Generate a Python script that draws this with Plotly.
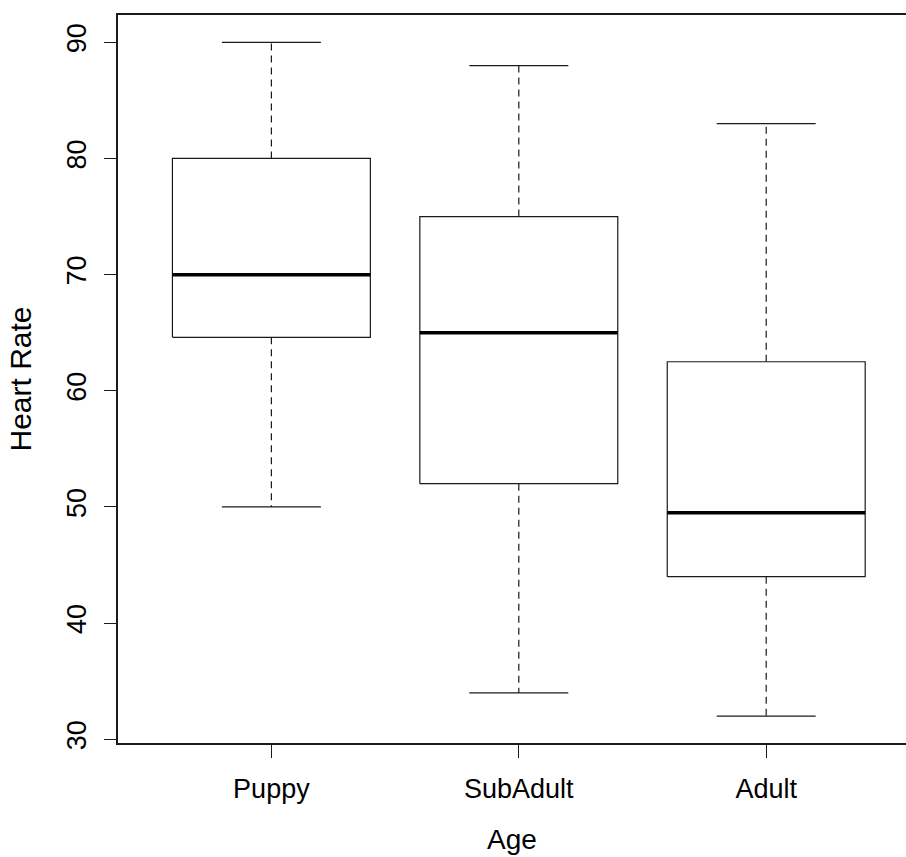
import plotly.graph_objects as go

# Heart rate summary statistics by age group
groups = ["Puppy", "SubAdult", "Adult"]
lower_whisker = [50, 34, 32]
q1 = [64.6, 52, 44]
median = [70, 65, 49.5]
q3 = [80, 75, 62.5]
upper_whisker = [90, 88, 83]
y_ticks = [30, 40, 50, 60, 70, 80, 90]

BOX_HALF = 0.4
CAP_HALF = 0.2
INK = "#1a1a1a"

fig = go.Figure()

for i, name in enumerate(groups):
    x = i + 1
    # box outline
    fig.add_trace(go.Scatter(
        x=[x - BOX_HALF, x + BOX_HALF, x + BOX_HALF, x - BOX_HALF, x - BOX_HALF],
        y=[q1[i], q1[i], q3[i], q3[i], q1[i]],
        mode="lines", line=dict(color=INK, width=1.2), hoverinfo="skip"))
    # median
    fig.add_trace(go.Scatter(
        x=[x - BOX_HALF, x + BOX_HALF], y=[median[i], median[i]],
        mode="lines", line=dict(color="black", width=3.5), hoverinfo="skip"))
    # dashed whiskers
    fig.add_trace(go.Scatter(
        x=[x, x, None, x, x],
        y=[q3[i], upper_whisker[i], None, q1[i], lower_whisker[i]],
        mode="lines", line=dict(color=INK, width=1.2, dash="7px,5px"),
        hoverinfo="skip"))
    # staples
    fig.add_trace(go.Scatter(
        x=[x - CAP_HALF, x + CAP_HALF, None, x - CAP_HALF, x + CAP_HALF],
        y=[upper_whisker[i], upper_whisker[i], None, lower_whisker[i], lower_whisker[i]],
        mode="lines", line=dict(color=INK, width=1.2), hoverinfo="skip"))

font_family = "Liberation Sans, Arial, sans-serif"

fig.update_layout(
    width=906, height=857,
    margin=dict(l=118, r=0, t=15, b=114, pad=0),
    paper_bgcolor="white", plot_bgcolor="white",
    showlegend=False,
    font=dict(family=font_family, size=27, color="black"),
    xaxis=dict(
        range=[0.38, 3.565],
        tickmode="array", tickvals=[1, 2, 3], ticktext=groups,
        ticks="outside", ticklen=13, tickwidth=1.3, tickcolor=INK,
        showline=True, linecolor=INK, linewidth=1.5, mirror=True,
        showgrid=False, zeroline=False,
        tickfont=dict(size=27),
        ticklabelstandoff=8,
        title=dict(text="Age", font=dict(size=28), standoff=26),
    ),
    yaxis=dict(
        range=[29.68, 92.35],
        tickmode="array", tickvals=y_ticks,
        ticks="outside", ticklen=12, tickwidth=1.3, tickcolor=INK,
        showline=True, linecolor=INK, linewidth=1.5, mirror=False,
        showgrid=False, zeroline=False,
        tickangle=-90,
        tickfont=dict(size=27),
        ticklabelstandoff=7,
        title=dict(text="Heart Rate", font=dict(size=30), standoff=22),
    ),
)

fig.write_html("out.html")
